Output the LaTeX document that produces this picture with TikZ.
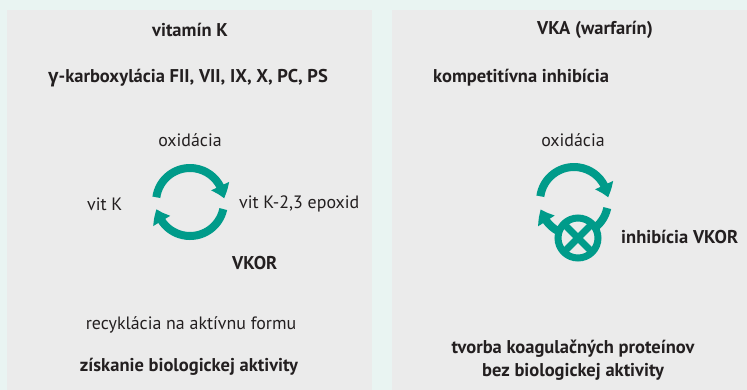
\documentclass[tikz,border=0pt]{standalone}
\usepackage{fontspec}
\setmainfont{PT Sans}
\newfontfamily\grk{Open Sans}
\usetikzlibrary{arrows.meta,bending}
\definecolor{bgmint}{HTML}{E9F4F2}
\definecolor{panel}{HTML}{EBEBEB}
\definecolor{tealc}{HTML}{009B8A}
\definecolor{ink}{HTML}{231F20}
\tikzset{
  txt/.style={text=ink, font=\fontsize{17.9}{23}\selectfont, inner sep=0pt},
  btxt/.style={txt, font=\fontsize{18.5}{23}\selectfont\bfseries},
  cyc/.style={draw=tealc, line width=8pt, -{Triangle[width=19pt,length=13pt,bend]}},
}
\begin{document}
\begin{tikzpicture}[x=1pt,y=1pt]
\fill[bgmint] (0,0) rectangle (747,-390);
\useasboundingbox (0,0) rectangle (747,-390);
\fill[panel] (7,-10) rectangle (372,-390);
\fill[panel] (392,-10) rectangle (747,-390);

% left panel
\node[btxt] (vk) at (190,-30) {vitamín K};
\node[btxt] (gk) at (188,-78) {{\grk γ}-karboxylácia FII, VII, IX, X, PC, PS};
\node[txt] (ox1) at (190,-140) {oxidácia};
\node[txt, anchor=west] (vitk) at (87,-204) {vit K};
\node[txt, anchor=west] (epo) at (239,-204) {vit K-2,3 epoxid};
\node[btxt, anchor=west] (vkor) at (232,-263) {VKOR};
\node[txt] (rec) at (191,-325) {recyklácia na aktívnu formu};
\node[btxt] (zisk) at (189,-367) {získanie biologickej aktivity};

\draw[cyc] (190,-202) ++(172:34pt) arc[start angle=172, end angle=6, radius=34pt];
\draw[cyc] (190,-202) ++(-12:34pt) arc[start angle=-12, end angle=-168, radius=34pt];

% right panel
\node[btxt] (vka) at (595,-30) {VKA (warfarín)};
\node[btxt, anchor=west] (komp) at (433,-78) {kompetitívna inhibícia};
\node[txt] (ox2) at (573,-140) {oxidácia};
\node[btxt, anchor=west] (inh) at (621,-237) {inhibícia VKOR};
\node[btxt, align=center] (tvor) at (573,-360.5) {tvorba koagulačných proteínov\\bez biologickej aktivity};

\draw[cyc] (574,-201) ++(172:34pt) arc[start angle=172, end angle=6, radius=34pt];
\draw[cyc] (574,-201) ++(-12:34pt) arc[start angle=-12, end angle=-166, radius=34pt];
\node[circle, draw=tealc, line width=7pt, fill=panel, minimum size=40pt, inner sep=0pt, outer sep=0pt] (ox) at (578,-238) {};
\draw[tealc, line width=7pt] (ox.45) -- (ox.225);
\draw[tealc, line width=7pt] (ox.135) -- (ox.315);
\end{tikzpicture}
\end{document}
